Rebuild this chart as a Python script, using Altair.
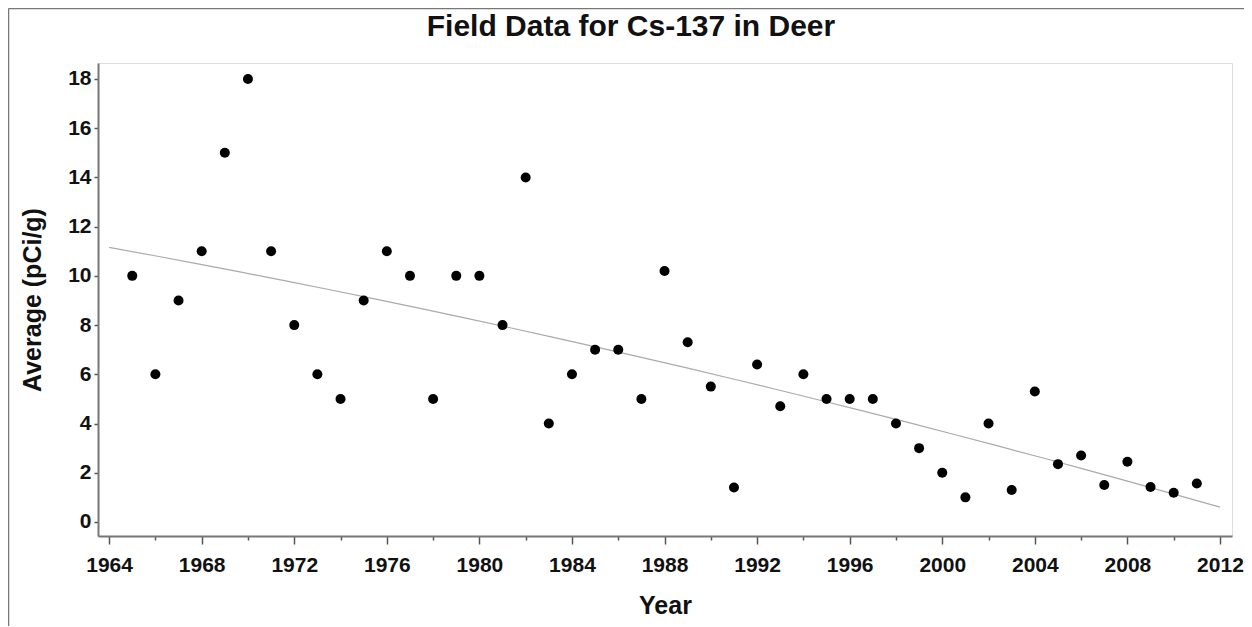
import altair as alt
import pandas as pd

years = [1965, 1966, 1967, 1968, 1969, 1970, 1971, 1972, 1973, 1974, 1975, 1976,
         1977, 1978, 1979, 1980, 1981, 1982, 1983, 1984, 1985, 1986, 1987, 1988,
         1989, 1990, 1991, 1992, 1993, 1994, 1995, 1996, 1997, 1998, 1999, 2000,
         2001, 2002, 2003, 2004, 2005, 2006, 2007, 2008, 2009, 2010, 2011]
averages = [10, 6, 9, 11, 15, 18, 11, 8, 6, 5, 9, 11,
            10, 5, 10, 10, 8, 14, 4, 6, 7, 7, 5, 10.2,
            7.3, 5.5, 1.4, 6.4, 4.7, 6, 5, 5, 5, 4, 3, 2,
            1, 4, 1.3, 5.3, 2.35, 2.7, 1.5, 2.45, 1.42, 1.19, 1.56]

x_ticks = list(range(1964, 2013))
y_ticks = list(range(0, 19, 2))
title_text = "Field Data for Cs-137 in Deer"

df = pd.DataFrame({"Year": years, "Average": averages})
one_df = pd.DataFrame({"k": [0]})

FONT = "Liberation Sans"
W, H = 1134, 473

xscale = alt.Scale(domain=[1963.52, 2012.52], nice=False, zero=False)
yscale = alt.Scale(domain=[-0.57, 18.65], nice=False, zero=False)

xaxis = alt.Axis(
    values=x_ticks, format="d", title="Year",
    labelExpr="datum.value % 4 === 0 ? datum.label : ''",
    labelOverlap=False, labelFont=FONT, labelFontSize=21, labelFontWeight="bold",
    labelColor="#111", labelPadding=10,
    tickSize={"condition": {"test": "datum.value % 4 === 0", "value": 8}, "value": 4},
    tickColor="#555", tickWidth=1.5,
    domainColor="#777", domainWidth=2,
    titleFont=FONT, titleFontSize=25, titleFontWeight="bold", titleColor="#111",
    titlePadding=18, grid=False,
)
yaxis = alt.Axis(
    values=y_ticks, title="Average (pCi/g)",
    labelFont=FONT, labelFontSize=21, labelFontWeight="bold", labelColor="#111",
    labelPadding=3, tickSize=4, tickColor="#555", tickWidth=1.5,
    domainColor="#777", domainWidth=2,
    titleFont=FONT, titleFontSize=25, titleFontWeight="bold", titleColor="#111",
    titlePadding=22, grid=False,
)

base = alt.Chart(df)

points = base.mark_circle(size=100, color="black", opacity=1).encode(
    x=alt.X("Year:Q", scale=xscale, axis=xaxis),
    y=alt.Y("Average:Q", scale=yscale, axis=yaxis),
)

trend = base.transform_regression(
    "Year", "Average", method="poly", order=2, extent=[1964, 2012]
).mark_line(color="#aaaaaa", strokeWidth=1.2).encode(
    x=alt.X("Year:Q", scale=xscale),
    y=alt.Y("Average:Q", scale=yscale),
)

frame_top = alt.Chart(one_df).mark_rule(color="#777", strokeWidth=1.5).encode(
    x=alt.value(-89.5), x2=alt.value(W + 40), y=alt.value(-54.5)
)
frame_left = alt.Chart(one_df).mark_rule(color="#777", strokeWidth=1.5).encode(
    x=alt.value(-89.5), y=alt.value(-54.5), y2=alt.value(H + 120)
)

title = alt.Chart(one_df).mark_text(
    text=title_text, font=FONT, fontSize=30, fontWeight="bold", color="#111",
    align="center", baseline="alphabetic",
).encode(x=alt.value(533), y=alt.value(-27))

chart = alt.layer(trend, points, frame_top, frame_left, title).properties(
    width=W, height=H,
    autosize=alt.AutoSizeParams(type="none"),
    padding={"left": 90, "top": 55, "right": 12, "bottom": 90},
).configure_view(stroke="#777", strokeWidth=2).configure(background="white")

chart.save("out.html", embed_options={"renderer": "svg", "actions": False})
